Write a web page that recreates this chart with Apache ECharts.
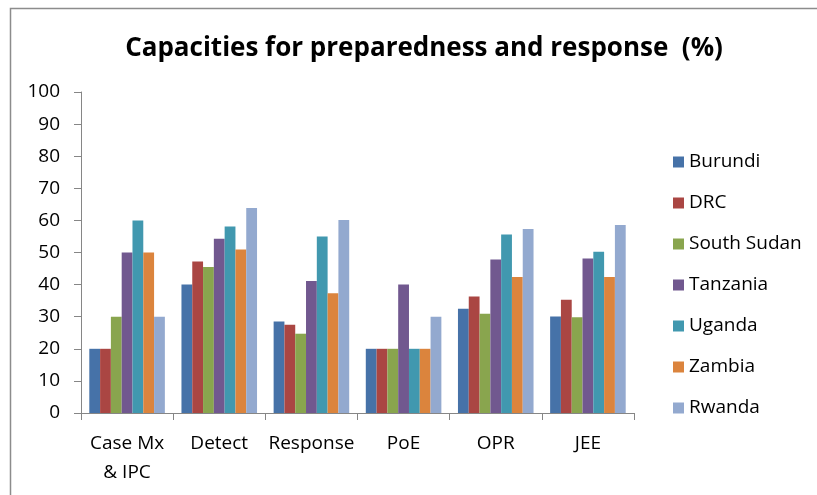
<!DOCTYPE html>
<html>
<head>
<meta charset="utf-8">
<script src="https://cdn.jsdelivr.net/npm/echarts@6/dist/echarts.min.js"></script>
<style>
html,body{margin:0;padding:0;background:#fff;}
#chart{width:817px;height:495px;}
</style>
</head>
<body>
<div id="chart"></div>
<script>
var categories = ['Case Mx\n& IPC', 'Detect', 'Response', 'PoE', 'OPR', 'JEE'];
var countries = ['Burundi', 'DRC', 'South Sudan', 'Tanzania', 'Uganda', 'Zambia', 'Rwanda'];
var burundi   = [20, 40.0, 28.5, 20, 32.5, 30.1];
var drc       = [20, 47.2, 27.5, 20, 36.3, 35.3];
var southSudan= [30, 45.5, 24.7, 20, 30.9, 29.8];
var tanzania  = [50, 54.3, 41.1, 40, 47.8, 48.1];
var uganda    = [60, 58.1, 55.0, 20, 55.6, 50.2];
var zambia    = [50, 50.9, 37.3, 20, 42.4, 42.4];
var rwanda    = [30, 63.9, 60.1, 30, 57.3, 58.6];
var seriesValues = [burundi, drc, southSudan, tanzania, uganda, zambia, rwanda];
var colors = ['#4672A8', '#AA4643', '#89A54E', '#71588F', '#4198AF', '#DB843D', '#93A9CF'];
var yTicks = [0, 10, 20, 30, 40, 50, 60, 70, 80, 90, 100];

var FONT = 'Open Sans';
var chart = echarts.init(document.getElementById('chart'));
chart.setOption({
  animation: false,
  color: colors,
  textStyle: {fontFamily: FONT},
  graphic: [{
    type: 'rect',
    shape: {x: 10.5, y: 8.5, width: 900, height: 600},
    style: {fill: 'none', stroke: '#8C8C8C', lineWidth: 1.5},
    silent: true
  }],
  title: {
    text: 'Capacities for preparedness and response  (%)',
    left: 419,
    textAlign: 'center',
    top: 31,
    textStyle: {fontFamily: FONT, fontSize: 26, fontWeight: 'bold', color: '#000'}
  },
  legend: {
    orient: 'vertical',
    left: 668,
    top: 147,
    itemWidth: 11,
    itemHeight: 11,
    itemGap: 21,
    icon: 'rect',
    data: countries,
    textStyle: {fontFamily: FONT, fontSize: 19, color: '#000', lineHeight: 20}
  },
  grid: {left: 81, right: 183, top: 92, bottom: 82, containLabel: false},
  xAxis: {
    type: 'category',
    data: categories,
    axisLine: {lineStyle: {color: '#868686', width: 1}},
    axisTick: {show: true, length: 7, lineStyle: {color: '#868686'}},
    axisLabel: {fontFamily: FONT, fontSize: 19, color: '#000', margin: 16, lineHeight: 29, interval: 0}
  },
  yAxis: {
    type: 'value',
    min: 0, max: 100, interval: 10,
    splitLine: {show: false},
    axisLine: {show: true, lineStyle: {color: '#868686', width: 1}},
    axisTick: {show: true, length: 7, lineStyle: {color: '#868686'}},
    axisLabel: {fontFamily: FONT, fontSize: 19, color: '#000', margin: 21,
      formatter: function(v){ return yTicks.indexOf(v) >= 0 ? String(v) : ''; }}
  },
  series: countries.map(function(name, i){
    return {
      name: name,
      type: 'bar',
      data: seriesValues[i],
      barGap: '0%',
      barCategoryGap: '18%',
      itemStyle: {color: colors[i]}
    };
  })
});
</script>
</body>
</html>
